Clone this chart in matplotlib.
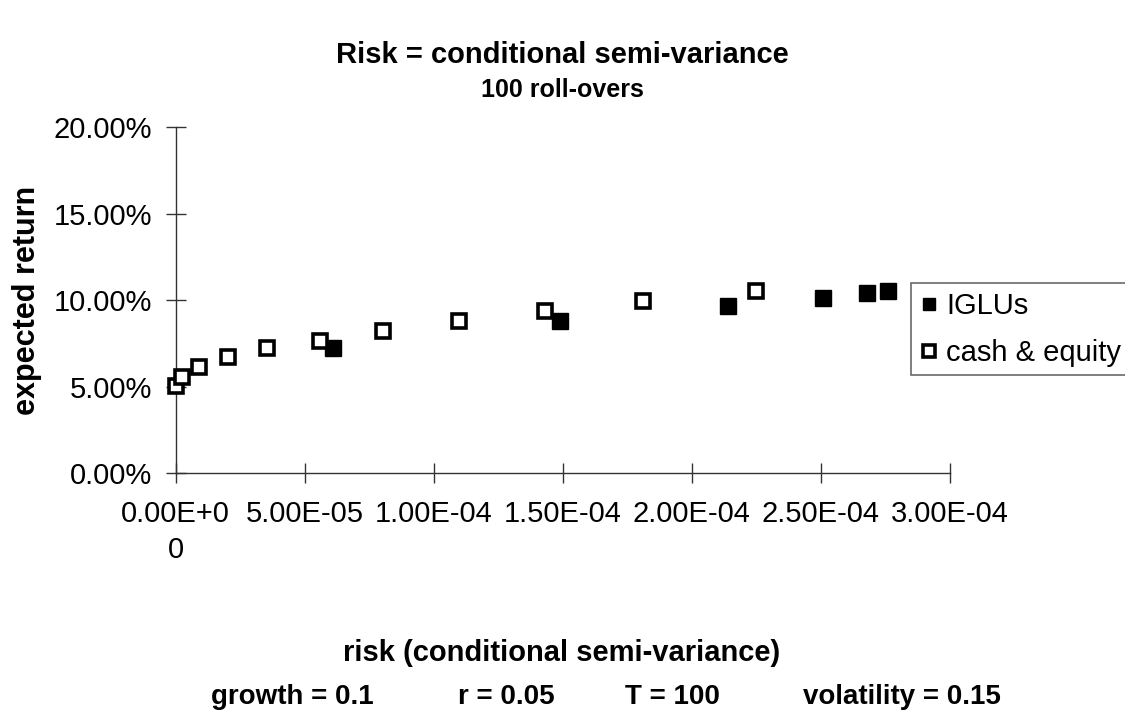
"""Risk vs expected return, 100 roll-overs: IGLUs against cash & equity portfolios."""
import matplotlib
matplotlib.use("Agg")
import matplotlib.pyplot as plt
from matplotlib.ticker import FuncFormatter

iglu_risk = [6.1e-5, 1.49e-4, 2.14e-4, 2.51e-4, 2.68e-4, 2.76e-4]
iglu_ret = [7.24, 8.80, 9.67, 10.13, 10.42, 10.54]
ce_risk = [0.0, 2.5e-6, 9.1e-6, 2.03e-5, 3.54e-5, 5.6e-5, 8.04e-5, 1.098e-4,
           1.43e-4, 1.81e-4, 2.25e-4]
ce_ret = [5.05, 5.57, 6.14, 6.72, 7.24, 7.65, 8.22, 8.80, 9.38, 9.96, 10.54]
x_ticks = [0.0, 5e-5, 1e-4, 1.5e-4, 2e-4, 2.5e-4, 3e-4]
x_ticklabels = ["0.00E+0\n0", "5.00E-05", "1.00E-04", "1.50E-04", "2.00E-04",
                "2.50E-04", "3.00E-04"]
y_ticks = [0, 5, 10, 15, 20]
params = ["growth = 0.1", "r = 0.05", "T = 100", "volatility = 0.15"]

plt.rcParams.update({"font.family": ["Liberation Sans", "DejaVu Sans"], "font.size": 21})

W, H = 1125, 718
fig = plt.figure(figsize=(W / 100, H / 100), dpi=100)
ax = fig.add_axes([175.5 / W, 1 - 473.3 / H, (950 - 175.5) / W, (473.3 - 127.3) / H])

ax.plot(iglu_risk, iglu_ret, "s", ms=11, mfc="black", mec="black", mew=1.0,
        label="IGLUs", zorder=3, clip_on=False)
ax.plot(ce_risk, ce_ret, "s", ms=9.5, mfc="white", mec="black", mew=2.6,
        label="cash & equity", zorder=3, clip_on=False)

ax.set_xlim(0, 3e-4); ax.set_ylim(0, 20)
ax.set_xticks(x_ticks); ax.set_xticklabels(x_ticklabels, linespacing=1.4)
ax.set_yticks(y_ticks)
ax.yaxis.set_major_formatter(FuncFormatter(lambda v, p: f"{v:.2f}%"))
for s in ("top", "right"):
    ax.spines[s].set_visible(False)
for s in ("left", "bottom"):
    ax.spines[s].set_color("#333333"); ax.spines[s].set_linewidth(1.0)
ax.tick_params(direction="inout", length=14, width=1.0, color="#333333", labelsize=21)
ax.tick_params(axis="x", pad=12)
ax.tick_params(axis="y", pad=10)

ax.set_ylabel("expected return", fontsize=22, fontweight="bold", labelpad=8)

leg = fig.legend(loc="upper left", bbox_to_anchor=(911 / W, 1 - 283 / H), borderaxespad=0,
                 fontsize=21, markerscale=0.85, handlelength=0.6, handletextpad=0.3,
                 borderpad=0.3, labelspacing=0.65, fancybox=False, frameon=True)
leg.get_frame().set_edgecolor("#444444"); leg.get_frame().set_linewidth(1.2)

fig.text(562 / W, 1 - 55 / H, "Risk = conditional semi-variance", ha="center", va="center",
         fontsize=21, fontweight="bold")
fig.text(562 / W, 1 - 90 / H, "100 roll-overs", ha="center", va="center",
         fontsize=18, fontweight="bold")
fig.text(562 / W, 1 - 653 / H, "risk (conditional semi-variance)", ha="center", va="center",
         fontsize=21, fontweight="bold")
for xp, t in zip([292, 506, 672, 902], params):
    fig.text(xp / W, 1 - 697 / H, t, ha="center", va="center", fontsize=20, fontweight="bold")

fig.savefig("out.png", dpi=100)
